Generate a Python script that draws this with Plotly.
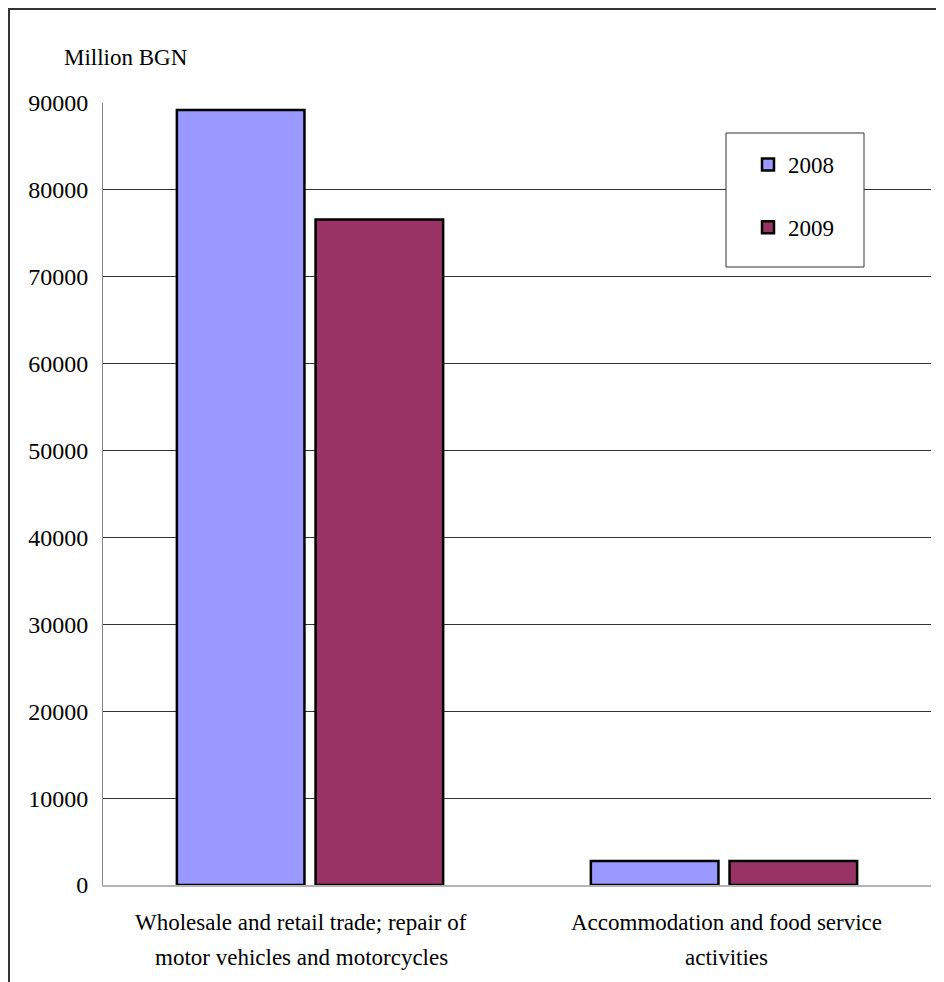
import plotly.graph_objects as go

categories = ["Wholesale and retail trade; repair of motor vehicles and motorcycles",
              "Accommodation and food service activities"]
label_lines = [["Wholesale and retail trade; repair of", "motor vehicles and motorcycles"],
               ["Accommodation and food service", "activities"]]
series_names = ["2008", "2009"]
values_2008 = [89200, 2750]
values_2009 = [76600, 2750]
colors = ["#9999FF", "#993366"]
y_ticks = [0, 10000, 20000, 30000, 40000, 50000, 60000, 70000, 80000, 90000]

FONT = "Liberation Serif, Times New Roman, serif"

W, H = 944, 982
OFF = 8  # page body margin
# plot area in screen pixels
SL, SR, ST, SB = 103, 931, 103, 885
L, R, T, B = SL - OFF, SR - OFF, ST - OFF, SB - OFF
pw, ph = R - L, B - T

def px(x):
    return (x - SL) / pw

def py(y):
    return (SB - y) / ph

fig = go.Figure()
for name, vals, col in zip(series_names, [values_2008, values_2009], colors):
    fig.add_trace(go.Bar(
        x=categories, y=vals, name=name, legendgroup=name,
        marker=dict(color=col, line=dict(color="black", width=2.5)),
    ))

annotations = [dict(text="Million BGN", xref="paper", yref="paper", x=px(62), y=py(58),
                    xanchor="left", yanchor="middle", showarrow=False,
                    font=dict(family=FONT, size=23, color="black"))]
label_shift = [-9, 2]
for cat, lines, sh in zip(categories, label_lines, label_shift):
    for i, line in enumerate(lines):
        annotations.append(dict(text=line, xref="x", yref="paper", x=cat, xshift=sh,
                                y=py(922 + 35 * i), xanchor="center", yanchor="middle",
                                showarrow=False,
                                font=dict(family=FONT, size=23, color="black")))

shapes = [
    # outer frame
    dict(type="rect", xref="paper", yref="paper", x0=px(9), x1=px(960), y0=py(1000), y1=py(9),
         line=dict(color="#333333", width=2), fillcolor="rgba(0,0,0,0)", layer="above"),
    # legend box
    dict(type="rect", xref="paper", yref="paper", x0=px(726), x1=px(864), y0=py(267), y1=py(133),
         line=dict(color="#333333", width=1), fillcolor="white", layer="above"),
]

fig.update_layout(
    width=W, height=H,
    margin=dict(l=L, r=W - R, t=T, b=H - B, pad=0),
    paper_bgcolor="white", plot_bgcolor="white",
    font=dict(family=FONT, size=23, color="black"),
    bargap=0.33, bargroupgap=0.08,
    showlegend=True,
    legend=dict(x=px(748), y=py(143), xanchor="left", yanchor="top",
                bgcolor="rgba(0,0,0,0)", borderwidth=0, itemwidth=30,
                font=dict(family=FONT, size=23, color="black"),
                tracegroupgap=30, traceorder="grouped", itemclick=False),
    annotations=annotations,
    shapes=shapes,
)
fig.update_xaxes(showticklabels=False, ticks="", showgrid=False, zeroline=False,
                 showline=True, linecolor="#b4b4b4", linewidth=2)
fig.update_yaxes(range=[0, 90000], tickvals=y_ticks, ticktext=[str(v) for v in y_ticks],
                 showgrid=True, gridcolor="#333333", gridwidth=1, zeroline=False,
                 showline=True, linecolor="#888888", linewidth=1, ticks="",
                 ticklabelstandoff=9, tickfont=dict(family=FONT, size=24, color="black"))

fig.write_html("out.html")
